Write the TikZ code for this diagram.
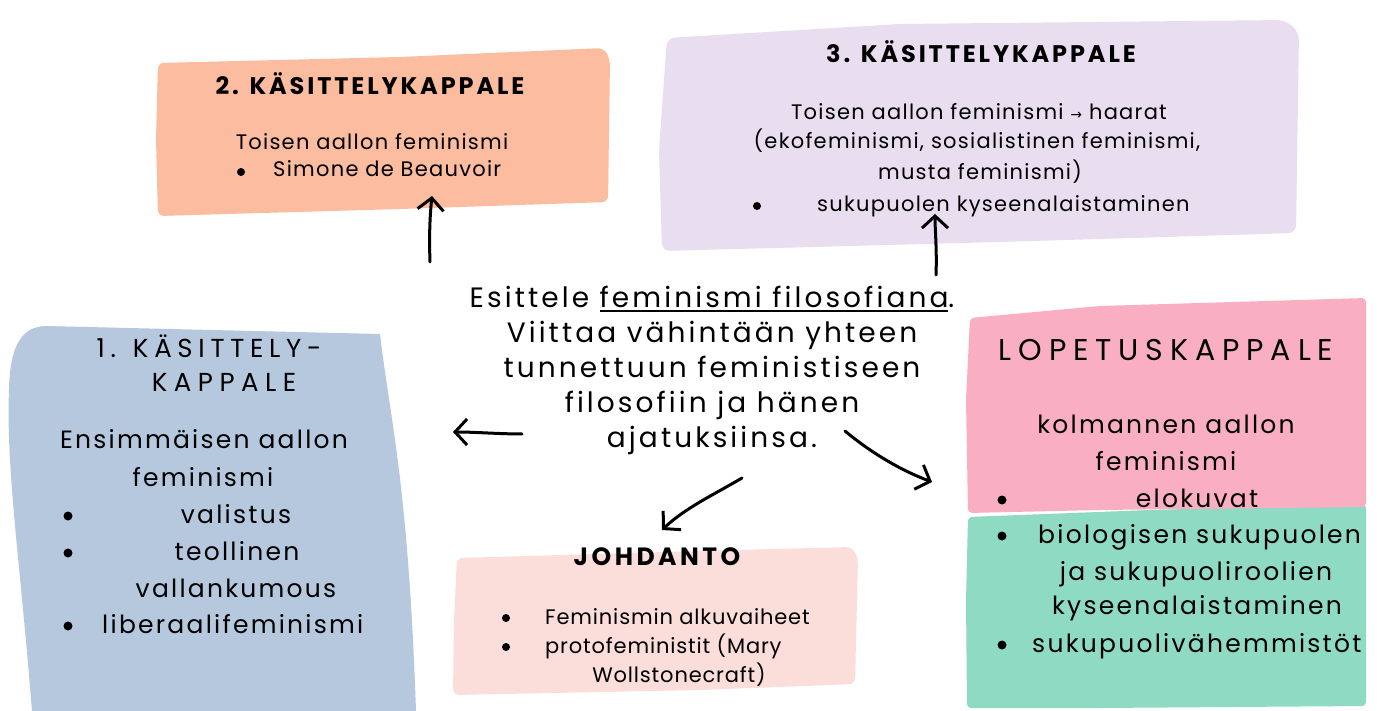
\documentclass[tikz,border=0pt]{standalone}
\usepackage{fontspec}
\setmainfont{Poppins}
\newfontfamily\symfont{DejaVu Sans}
\usetikzlibrary{arrows.meta}
\definecolor{peach}{HTML}{FBBCA0}
\definecolor{lav}{HTML}{E9DEF0}
\definecolor{bluebox}{HTML}{B5C8DE}
\definecolor{johd}{HTML}{FBDDDA}
\definecolor{lop}{HTML}{F9AEC2}
\definecolor{mint}{HTML}{8FDAC2}
\newcommand\myul[1]{\setbox0\hbox{#1}\rlap{\rule[-5pt]{\wd0}{1.8pt}}\box0}
\newcommand\ls[1]{\addfontfeature{LetterSpace=#1}}
\tikzset{
  hd/.style={font=\fontsize{24}{28}\selectfont\bfseries\ls{12}, anchor=base, inner sep=0pt},
  tx/.style={font=\fontsize{21}{25}\selectfont\ls{6}, anchor=base, inner sep=0pt},
  txl/.style={tx, anchor=base west},
  bigtx/.style={font=\fontsize{25}{30}\selectfont\ls{9}, anchor=base, inner sep=0pt},
  bigl/.style={bigtx, anchor=base west},
  bul/.style={circle, fill=black, inner sep=0pt, minimum size=8pt},
  bigbul/.style={bul, minimum size=9pt},
  arr/.style={-{Straight Barb[length=12pt,width=26pt]}, line width=3pt, line cap=round, line join=round},
}
\begin{document}
\begin{tikzpicture}[x=1pt,y=-1pt]
\useasboundingbox (0,0) rectangle (1379,711);
\fill[white] (0,0) rectangle (1379,711);

% boxes
\fill[peach, rounded corners=6pt] (158,63) -- (400,57) -- (604,48) -- (610,60) -- (608,202) -- (400,209) -- (158,216) -- (156,140) -- cycle;
\fill[lav, rounded corners=8pt] (667,38) -- (900,24) -- (1285,20) -- (1299,32) -- (1296,233) -- (1000,242) -- (662,251) -- (659,150) -- cycle;
\fill[bluebox] (45,326) -- (380,334) .. controls (390,420) and (408,480) .. (416,711) -- (32,711) .. controls (20,560) and (6,470) .. (9,390) .. controls (10,340) and (25,327) .. (45,326) -- cycle;
\fill[johd, rounded corners=6pt] (457,558) -- (700,551) -- (852,547) -- (858,558) -- (855,684) -- (700,690) -- (453,695) -- (454,620) -- cycle;
\fill[mint, rounded corners=4pt] (968,517) -- (1150,510) -- (1366,504) -- (1366,706) -- (1100,708) -- (967,708) -- (966,600) -- cycle;
\fill[lop, rounded corners=4pt] (970,318) -- (1100,306) -- (1366,298) -- (1366,507) -- (1100,510) -- (968,513) -- (966,400) -- cycle;

% 2. box
\node[hd] (h2) at (370,95) {2. KÄSITTELYKAPPALE};
\node[tx] (t2a) at (372,150) {Toisen aallon feminismi};
\node[bul] (b2) at (241,172) {};
\node[txl] (t2b) at (273,177) {Simone de Beauvoir};

% 3. box
\node[hd] (h3) at (981,63) {3. KÄSITTELYKAPPALE};
\node[tx] (t3a) at (979,120) {Toisen aallon feminismi {\symfont\fontsize{14}{16}\selectfont →} haarat};
\node[tx] (t3b) at (977,149) {(ekofeminismi, sosialistinen feminismi,};
\node[tx] (t3c) at (980,180) {musta feminismi)};
\node[bul] (b3) at (757,206) {};
\node[txl] (t3d) at (817,212) {sukupuolen kyseenalaistaminen};

% 1. box
\node[font=\fontsize{26}{30}\selectfont\ls{22}, anchor=base, inner sep=0pt] (h1a) at (209,357) {1. KÄSITTELY-};
\node[font=\fontsize{26}{30}\selectfont\ls{25}, anchor=base, inner sep=0pt] (h1b) at (224,391) {KAPPALE};
\node[bigtx] (t1a) at (204,448) {Ensimmäisen aallon};
\node[bigtx] (t1b) at (203,486) {feminismi};
\node[bigbul] (b1a) at (68,516) {};
\node[bigtx] (t1c) at (236,523) {valistus};
\node[bigbul] (b1b) at (68,553) {};
\node[bigtx] (t1d) at (237,560) {teollinen};
\node[bigtx] (t1e) at (236,597) {vallankumous};
\node[bigbul] (b1c) at (68,626) {};
\node[bigl] (t1f) at (102,633) {liberaalifeminismi};

% johdanto
\node[font=\fontsize{25}{29}\selectfont\bfseries\ls{14}, anchor=base, inner sep=0pt] (hj) at (657,565) {JOHDANTO};
\node[bul] (bja) at (506,618) {};
\node[font=\fontsize{21}{25}\selectfont\ls{4}, anchor=base west, inner sep=0pt] (tja) at (545,624) {Feminismin alkuvaiheet};
\node[bul] (bjb) at (506,647) {};
\node[font=\fontsize{21}{25}\selectfont\ls{4}, anchor=base west, inner sep=0pt] (tjb) at (545,653) {protofeministit (Mary};
\node[font=\fontsize{21}{25}\selectfont\ls{4}, anchor=base, inner sep=0pt] (tjc) at (679,682) {Wollstonecraft)};

% lopetus
\node[font=\fontsize{30}{34}\selectfont\ls{23}, anchor=base, inner sep=0pt] (hl) at (1166,360) {LOPETUSKAPPALE};
\node[bigtx] (tla) at (1166,433) {kolmannen aallon};
\node[bigtx] (tlb) at (1166,470) {feminismi};
\node[bigbul] (bla) at (1002,500) {};
\node[bigtx] (tlc) at (1197,507) {elokuvat};
\node[bigbul] (blb) at (1002,536) {};
\node[bigl] (tld) at (1038,543) {biologisen sukupuolen};
\node[bigtx] (tle) at (1196,580) {ja sukupuoliroolien};
\node[bigtx] (tlf) at (1197,614) {kyseenalaistaminen};
\node[bigbul] (blc) at (1002,645) {};
\node[bigl] (tlg) at (1032,652) {sukupuolivähemmistöt};

% central text
\node[font=\fontsize{28}{35}\selectfont\ls{11}, align=center, inner sep=0pt] (main) at (712,370)
  {Esittele \myul{feminismi filosofiana}.\\Viittaa vähintään yhteen\\tunnettuun feministiseen\\filosofiin ja hänen\\ajatuksiinsa.};

% arrows
\coordinate (s2) at (430,262); \coordinate (e2) at (432,196);
\coordinate (s3) at (936,275); \coordinate (e3) at (935,214);
\coordinate (s1) at (522,434); \coordinate (e1) at (453,432);
\coordinate (sj) at (742,478); \coordinate (ej) at (662,530);
\coordinate (sl) at (845,431); \coordinate (el) at (932,482);
\draw[arr] (s2) .. controls (429,235) and (430,215) .. (e2);
\draw[arr] (s3) .. controls (937,250) and (935,230) .. (e3);
\draw[arr] (s1) .. controls (500,434) and (475,432) .. (e1);
\draw[arr] (sj) .. controls (715,494) and (685,508) .. (ej);
\draw[arr] (sl) .. controls (870,452) and (900,470) .. (el);
\end{tikzpicture}
\end{document}
